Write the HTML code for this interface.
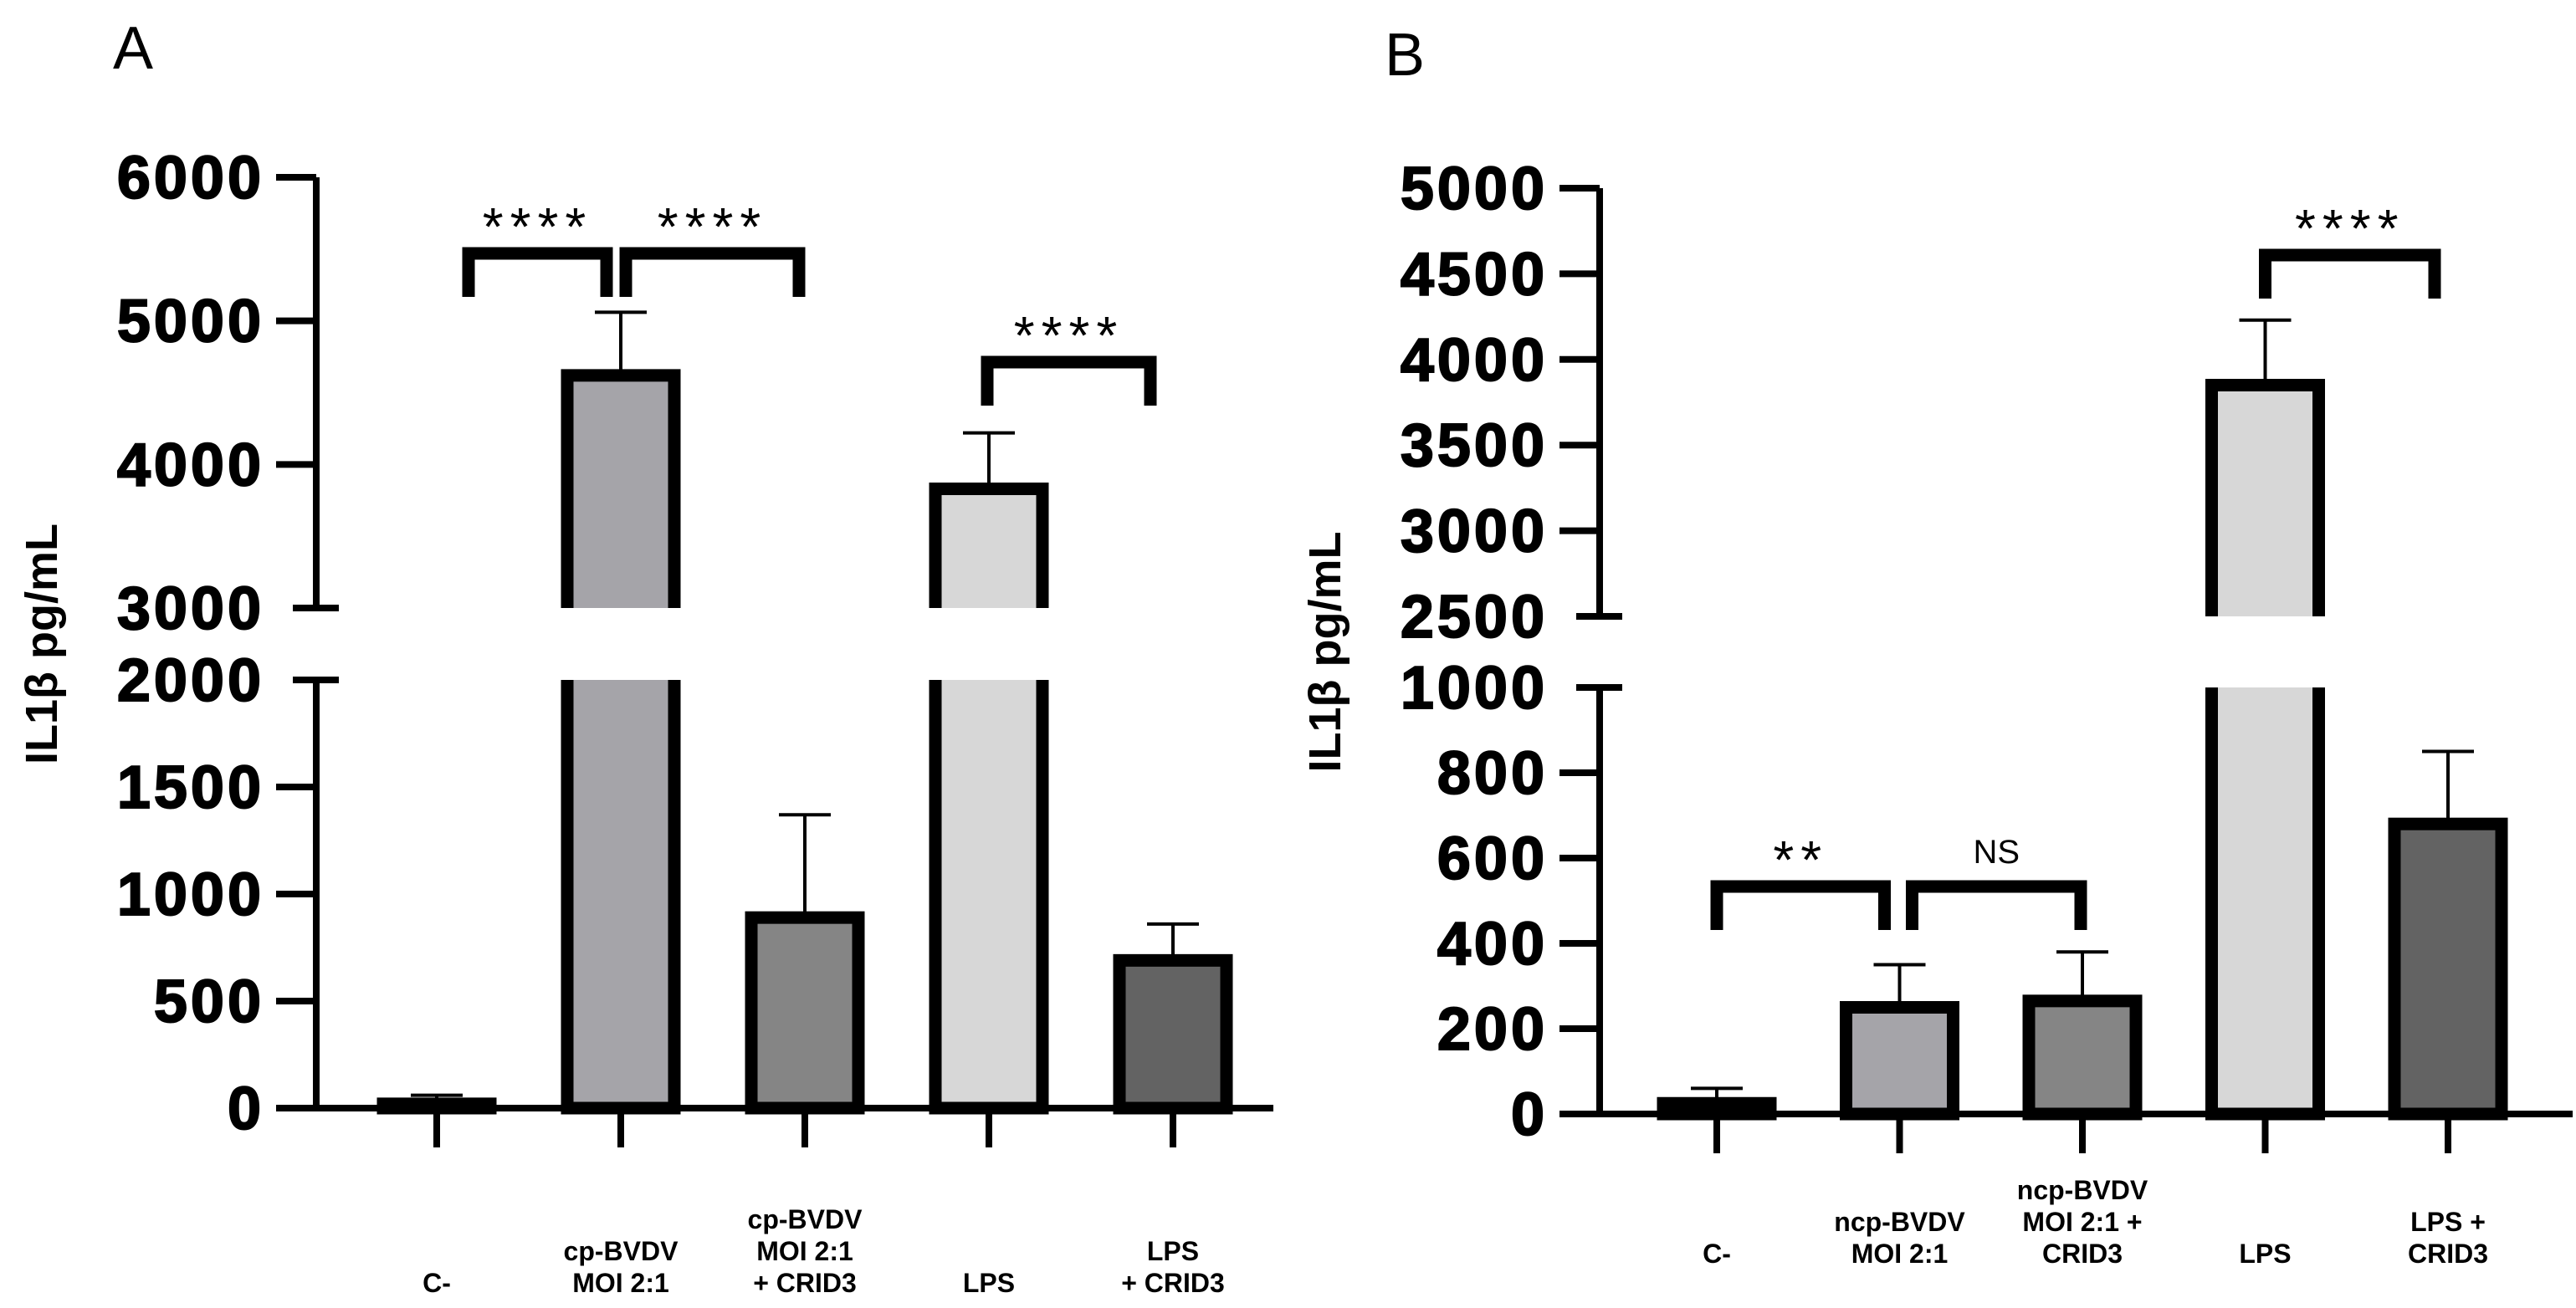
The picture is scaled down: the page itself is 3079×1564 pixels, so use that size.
<!DOCTYPE html>
<html><head><meta charset="utf-8"><style>
html,body{margin:0;padding:0;background:#fff;}
svg{display:block;font-family:"Liberation Sans",sans-serif;}
</style></head><body>
<svg id="chart" width="3079" height="1564" viewBox="0 0 3079 1564" xmlns="http://www.w3.org/2000/svg">
<text x="135" y="82" font-size="72">A</text>
<text x="1655" y="90" font-size="72">B</text>
<g id="pa"></g>
<g id="pb"></g>
</svg>
<script>
const NS="http://www.w3.org/2000/svg";
// Panel A data
const catsA=[["C-"],["cp-BVDV","MOI 2:1"],["cp-BVDV","MOI 2:1","+ CRID3"],["LPS"],["LPS","+ CRID3"]];
const valsA=[20,4620,890,3830,690];
const errA=[60,5060,1370,4220,860];
const upTicksA=[3000,4000,5000,6000];
const loTicksA=[0,500,1000,1500,2000];
// Panel B data
const catsB=[["C-"],["ncp-BVDV","MOI 2:1"],["ncp-BVDV","MOI 2:1 +","CRID3"],["LPS"],["LPS +","CRID3"]];
const valsB=[25,250,265,3850,680];
const errB=[60,350,380,4230,850];
const upTicksB=[2500,3000,3500,4000,4500,5000];
const loTicksB=[0,200,400,600,800,1000];
const fills=["#e0e0e0","#a5a4a9","#858585","#d7d7d7","#636363"];

function el(p,t,a){const e=document.createElementNS(NS,t);for(const k in a)e.setAttribute(k,a[k]);p.appendChild(e);return e;}

function panel(g,o){
  const lo=v=>o.loBot-(v-o.loMin)/(o.loMax-o.loMin)*(o.loBot-o.loTop);
  const up=v=>o.upBot-(v-o.upMin)/(o.upMax-o.upMin)*(o.upBot-o.upTop);
  const Y=v=>v<=o.loMax?lo(v):up(v);
  const X=i=>o.x0+i*o.dx;
  let a=el(g,'line',{x1:o.ax,y1:o.upTop,x2:o.ax,y2:o.upBot,stroke:'#000','stroke-width':8});
  
  a=el(g,'line',{x1:o.ax,y1:o.loTop,x2:o.ax,y2:o.loBot,stroke:'#000','stroke-width':8});
  
  a=el(g,'line',{x1:o.ax-48,y1:o.loBot,x2:o.xEnd,y2:o.loBot,stroke:'#000','stroke-width':8});
  
  const tick=(v,y,isBreak)=>{
    const t=el(g,'line',{x1:o.ax-48,y1:y,x2:isBreak?o.ax+27:o.ax,y2:y,stroke:'#000','stroke-width':8});
    if(isBreak)t.setAttribute('x1',o.ax-28);
    
    const l=el(g,'text',{x:o.ax-62,y:y+25,'text-anchor':'end','font-size':72,'font-weight':'bold','letter-spacing':4,stroke:'#000','stroke-width':2});
    l.textContent=v;
    
  };
  o.upTicks.forEach(v=>tick(v,up(v),v===o.upMin));
  o.loTicks.forEach(v=>tick(v,lo(v),v===o.loMax));
  const yl=el(g,'text',{transform:`translate(${o.ax-310},${(o.upBot+o.loTop)/2}) rotate(-90)`,'text-anchor':'middle','font-size':54,'font-weight':'bold'});
  yl.textContent='IL1β pg/mL';
  
  o.vals.forEach((v,i)=>{
    const cx=X(i),w=128,x=cx-w/2;
    const e=el(g,'line',{x1:cx,y1:Y(o.errs[i]),x2:cx,y2:Y(v),stroke:'#000','stroke-width':4});
    
    const c=el(g,'line',{x1:cx-31,y1:Y(o.errs[i]),x2:cx+31,y2:Y(o.errs[i]),stroke:'#000','stroke-width':4});
    
    if(v>o.loMax){
      const b1=el(g,'path',{d:`M${x},${o.upBot}V${up(v)}H${x+w}V${o.upBot}`,fill:fills[i],stroke:'#000','stroke-width':15});
      
      const b2=el(g,'path',{d:`M${x},${o.loTop}V${o.loBot}H${x+w}V${o.loTop}`,fill:fills[i],stroke:'#000','stroke-width':15});
      
    } else {
      const b=el(g,'rect',{x:x,y:lo(v),width:w,height:o.loBot-lo(v),fill:fills[i],stroke:'#000','stroke-width':15});
      
    }
    const xt=el(g,'line',{x1:cx,y1:o.loBot,x2:cx,y2:o.loBot+47,stroke:'#000','stroke-width':8});
    
    const lines=o.cats[i];
    lines.forEach((s,j)=>{
      const t=el(g,'text',{x:cx,y:o.labBase-(lines.length-1-j)*38,'text-anchor':'middle','font-size':32,'font-weight':'bold'});
      t.textContent=s;
      
    });
  });
  o.br.forEach(b=>{
    const x1=X(b[0])+b[3],x2=X(b[1])-b[4],y=b[2];
    const p=el(g,'path',{d:`M${x1},${y+52}V${y}H${x2}V${y+52}`,fill:'none',stroke:'#000','stroke-width':15});
    
    const t=el(g,'text',{x:(x1+x2)/2,y:b[5]==='NS'?y-28:y-10,'text-anchor':'middle','font-size':b[5]==='NS'?40:64,'letter-spacing':b[5]==='NS'?0:8});
    t.textContent=b[5];
    
  });
}
panel(document.getElementById('pa'),{ax:378,xEnd:1522,x0:522,dx:220,
  upTop:212,upBot:727,upMin:3000,upMax:6000,loTop:813,loBot:1325,loMin:0,loMax:2000,
  upTicks:upTicksA,loTicks:loTicksA,vals:valsA,errs:errA,cats:catsA,labBase:1545,
  br:[[0,1,303,38,17,'****'],[1,2,303,6,7,'****'],[3,4,433,-2,27,'****']]});
panel(document.getElementById('pb'),{ax:1912,xEnd:3075,x0:2052,dx:218.5,
  upTop:225,upBot:737,upMin:2500,upMax:5000,loTop:822,loBot:1332,loMin:0,loMax:1000,
  upTicks:upTicksB,loTicks:loTicksB,vals:valsB,errs:errB,cats:catsB,labBase:1510,
  br:[[0,1,1060,0,18,'**'],[1,2,1060,15,2,'NS'],[3,4,305,0,16,'****']]});
</script>
</body></html>
